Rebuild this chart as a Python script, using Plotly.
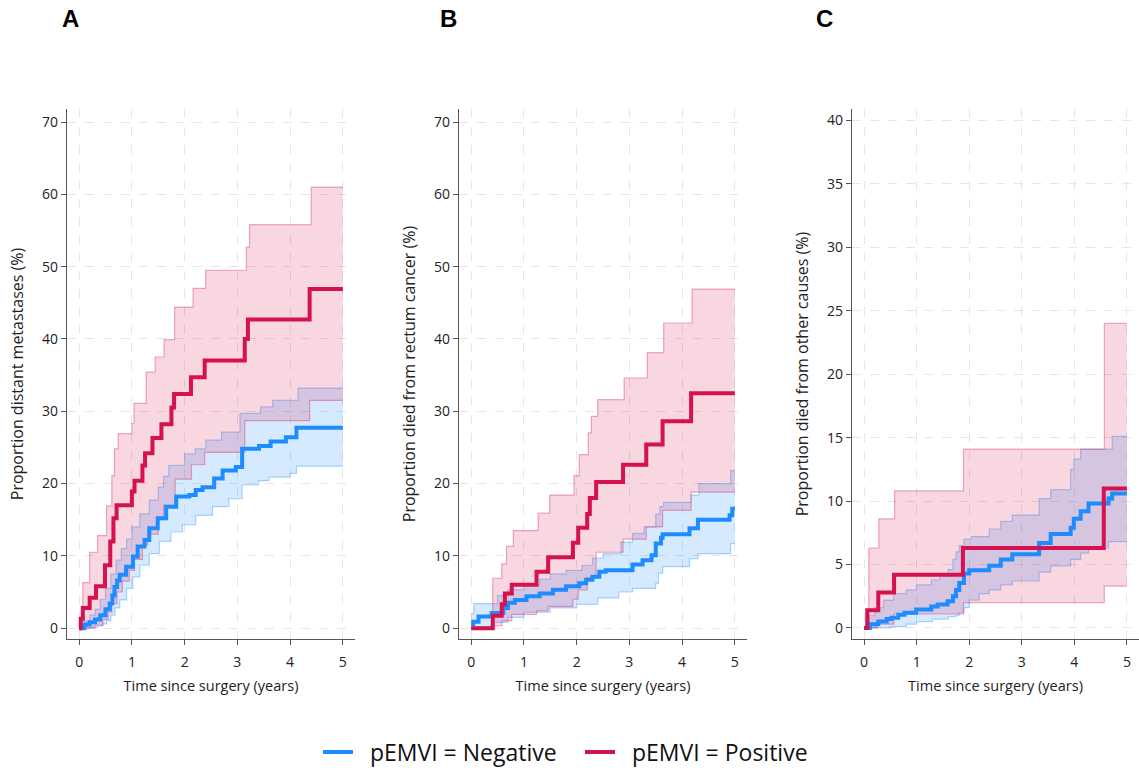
import plotly.graph_objects as go

# ---------------- Panel A: distant metastases ----------------
A_neg_t = [0, 0.1, 0.2, 0.3, 0.4, 0.5, 0.58, 0.63, 0.67, 0.72, 0.77, 0.89, 1.02, 1.11, 1.24, 1.33, 1.49, 1.65, 1.84,
           2.09, 2.21, 2.34, 2.56, 2.72, 2.97, 3.09, 3.41, 3.63, 3.92, 4.12, 5.0]
A_neg_y = [0, 0.5, 0.8, 1.2, 1.8, 2.6, 3.4, 4.5, 5.7, 6.6, 7.4, 8.5, 9.9, 11.3, 12.2, 13.8, 15.2, 16.8, 18.2,
           18.4, 19.1, 19.5, 20.7, 21.8, 22.3, 24.8, 25.2, 25.8, 26.4, 27.7, 27.7]
A_neg_lo_t = [0, 0.2, 0.35, 0.45, 0.52, 0.6, 0.68, 0.77, 0.9, 1.02, 1.15, 1.33, 1.52, 1.74, 1.96, 2.21, 2.53, 2.84,
              3.09, 3.4, 3.6, 4.0, 4.12, 5.0]
A_neg_lo_y = [0, 0.1, 0.3, 0.6, 1.0, 1.8, 2.8, 3.9, 5.5, 7.1, 8.7, 10.3, 12.0, 13.3, 14.3, 15.6, 16.8, 17.9,
              19.8, 20.4, 20.9, 21.4, 22.4, 22.4]
A_neg_hi_t = [0, 0.1, 0.2, 0.3, 0.4, 0.5, 0.6, 0.7, 0.8, 0.9, 1.0, 1.15, 1.33, 1.5, 1.6, 1.7, 2.0, 2.2, 2.4, 2.7,
              3.05, 3.44, 3.67, 4.15, 5.0]
A_neg_hi_y = [0, 1.0, 1.8, 2.6, 4.0, 5.5, 7.5, 9.4, 11.0, 12.3, 14.0, 15.8, 17.7, 19.5, 21.0, 22.5, 24.1, 24.8,
              26.0, 27.1, 29.7, 30.6, 31.5, 33.2, 33.2]

A_pos_t = [0, 0.03, 0.07, 0.2, 0.32, 0.49, 0.59, 0.65, 0.71, 1.0, 1.05, 1.2, 1.25, 1.39, 1.56, 1.75, 1.8, 2.12,
           2.38, 3.14, 3.2, 4.37, 5.0]
A_pos_y = [0, 1.3, 2.8, 4.2, 5.8, 8.7, 12.0, 15.2, 17.0, 18.9, 20.4, 22.5, 24.2, 26.3, 28.2, 30.5, 32.4, 34.7,
           37.0, 40.0, 42.7, 46.9, 46.9]
A_pos_lo_t = [0, 0.3, 0.45, 0.55, 0.62, 0.72, 0.82, 0.95, 1.05, 1.2, 1.3, 1.5, 1.6, 1.82, 2.13, 2.38, 3.14, 4.37, 5.0]
A_pos_lo_y = [0, 0.4, 1.2, 2.2, 3.4, 5.0, 6.5, 8.0, 9.5, 11.5, 13.0, 15.0, 17.0, 20.6, 22.6, 24.3, 28.7, 31.5, 31.5]
A_pos_hi_t = [0, 0.07, 0.2, 0.35, 0.52, 0.62, 0.67, 0.74, 1.0, 1.04, 1.27, 1.44, 1.61, 1.81, 2.16, 2.4, 3.17, 3.23,
              4.4, 5.0]
A_pos_hi_y = [0, 6.3, 10.5, 12.8, 16.9, 21.1, 24.8, 26.9, 28.3, 31.1, 35.4, 37.5, 39.9, 44.4, 47.0, 49.5, 52.7,
              55.8, 61.0, 61.0]

# ---------------- Panel B: died from rectum cancer ----------------
B_neg_t = [0, 0.04, 0.14, 0.39, 0.61, 0.7, 0.83, 1.05, 1.3, 1.55, 1.8, 2.05, 2.18, 2.3, 2.43, 2.55, 3.06, 3.25,
           3.42, 3.5, 3.6, 3.63, 4.14, 4.3, 4.9, 4.95, 5.0]
B_neg_y = [0.5, 0.9, 1.6, 2.1, 2.8, 3.5, 3.9, 4.4, 4.8, 5.3, 5.8, 6.2, 6.7, 7.1, 7.8, 8.0, 8.8, 9.4,
           10.1, 11.7, 12.5, 13.0, 13.8, 15.0, 15.6, 16.5, 16.5]
B_neg_lo_t = [0, 0.1, 0.4, 0.7, 1.0, 1.5, 2.0, 2.4, 2.8, 3.06, 3.5, 3.55, 3.63, 4.14, 4.3, 4.92, 5.0]
B_neg_lo_y = [0, 0.2, 0.8, 1.5, 2.2, 2.8, 3.3, 4.2, 5.0, 5.5, 6.2, 7.6, 8.5, 9.6, 10.3, 11.7, 11.7]
B_neg_hi_t = [0, 0.05, 0.5, 0.7, 1.0, 1.3, 1.5, 1.8, 2.1, 2.3, 2.5, 2.84, 3.06, 3.28, 3.5, 3.58, 3.65, 4.17, 4.32,
              4.92, 5.0]
B_neg_hi_y = [2.0, 3.4, 4.5, 5.3, 6.0, 6.8, 7.5, 8.0, 8.7, 9.7, 10.3, 11.9, 13.1, 14.0, 15.8, 16.8, 17.4, 18.4,
              20.0, 21.8, 21.8]

B_pos_t = [0, 0.41, 0.58, 0.64, 0.77, 1.24, 1.46, 1.93, 2.03, 2.2, 2.25, 2.37, 2.88, 3.32, 3.63, 4.17, 5.0]
B_pos_y = [0, 1.7, 3.3, 4.8, 6.0, 7.8, 9.8, 11.8, 13.9, 15.8, 18.0, 20.2, 22.6, 25.4, 28.6, 32.5, 32.5]
B_pos_lo_t = [0, 0.41, 0.58, 0.77, 1.24, 1.46, 1.93, 2.03, 2.2, 2.37, 2.88, 3.32, 3.63, 4.17, 5.0]
B_pos_lo_y = [0, 0.3, 1.0, 1.9, 2.4, 3.0, 4.0, 5.3, 7.0, 10.5, 12.3, 14.0, 16.3, 18.8, 18.8]
B_pos_hi_t = [0, 0.41, 0.58, 0.67, 0.8, 1.27, 1.49, 1.95, 2.05, 2.22, 2.28, 2.4, 2.9, 3.34, 3.65, 4.19, 5.0]
B_pos_hi_y = [0, 6.9, 8.9, 11.3, 13.5, 15.9, 18.4, 21.1, 24.0, 27.0, 29.3, 31.6, 34.6, 38.1, 42.2, 46.9, 46.9]

# ---------------- Panel C: died from other causes ----------------
C_neg_t = [0, 0.11, 0.27, 0.43, 0.52, 0.65, 0.77, 0.99, 1.28, 1.4, 1.59, 1.69, 1.75, 1.81, 1.9, 2.0, 2.38, 2.6,
           2.82, 3.33, 3.55, 3.93, 3.99, 4.12, 4.27, 4.65, 4.72, 5.0]
C_neg_y = [0, 0.3, 0.5, 0.7, 0.8, 1.05, 1.2, 1.45, 1.7, 1.85, 2.1, 2.5, 3.0, 3.55, 4.3, 4.55, 4.9, 5.4,
           5.8, 6.7, 7.4, 7.9, 8.6, 9.2, 9.8, 10.2, 10.6, 10.6]
C_neg_lo_t = [0, 0.5, 0.8, 1.0, 1.3, 1.6, 1.75, 1.81, 1.9, 2.0, 2.19, 2.38, 2.6, 2.82, 3.33, 3.55, 3.93, 4.12,
              4.27, 4.65, 5.0]
C_neg_lo_y = [0, 0.1, 0.3, 0.5, 0.7, 0.9, 1.0, 1.2, 1.6, 2.2, 2.7, 3.0, 3.4, 3.7, 4.4, 4.9, 5.4, 5.9,
              6.3, 6.8, 6.8]
C_neg_hi_t = [0, 0.1, 0.2, 0.37, 0.56, 0.8, 1.0, 1.28, 1.44, 1.6, 1.69, 1.75, 1.81, 1.9, 2.04, 2.38, 2.6, 2.82,
              3.33, 3.55, 3.93, 3.99, 4.12, 4.72, 5.0]
C_neg_hi_y = [0, 1.0, 1.6, 2.2, 2.7, 3.0, 3.4, 3.8, 4.2, 4.6, 5.4, 6.0, 6.5, 7.0, 7.2, 7.8, 8.4, 8.9,
              10.2, 10.9, 12.5, 13.3, 14.1, 15.1, 15.1]

C_pos_t = [0, 0.06, 0.27, 0.57, 1.88, 4.56, 5.0]
C_pos_y = [0, 1.4, 2.8, 4.2, 6.3, 11.0, 11.0]
C_pos_lo_t = [0, 0.25, 0.57, 1.89, 4.57, 5.0]
C_pos_lo_y = [0, 0.3, 1.1, 2.0, 3.3, 3.3]
C_pos_hi_t = [0, 0.09, 0.28, 0.58, 1.89, 4.57, 5.0]
C_pos_hi_y = [0, 6.3, 8.6, 10.8, 14.1, 24.0, 24.0]

y_titles = ["Proportion distant metastases (%)",
            "Proportion died from rectum cancer (%)",
            "Proportion died from other causes (%)"]
x_title = "Time since surgery (years)"
panel_letters = ["A", "B", "C"]
legend_names = ["pEMVI = Negative", "pEMVI = Positive"]
x_ticks = [0, 1, 2, 3, 4, 5]
y_ticks_AB = [0, 10, 20, 30, 40, 50, 60, 70]
y_ticks_C = [0, 5, 10, 15, 20, 25, 30, 35, 40]

BLUE = "rgb(30,140,255)"
RED = "rgb(214,17,80)"
BLUE_FILL = "rgba(30,140,255,0.18)"
RED_FILL = "rgba(214,17,80,0.17)"
BLUE_EDGE = "rgba(30,140,255,0.35)"
RED_EDGE = "rgba(214,17,80,0.35)"
FONT = "Open Sans"

W, H = 1139, 770
panels = [
    dict(neg=(A_neg_t, A_neg_y), neg_lo=(A_neg_lo_t, A_neg_lo_y), neg_hi=(A_neg_hi_t, A_neg_hi_y),
         pos=(A_pos_t, A_pos_y), pos_lo=(A_pos_lo_t, A_pos_lo_y), pos_hi=(A_pos_hi_t, A_pos_hi_y),
         x0=67, x1=355, yr=[-1.5, 71.8], yt=y_ticks_AB),
    dict(neg=(B_neg_t, B_neg_y), neg_lo=(B_neg_lo_t, B_neg_lo_y), neg_hi=(B_neg_hi_t, B_neg_hi_y),
         pos=(B_pos_t, B_pos_y), pos_lo=(B_pos_lo_t, B_pos_lo_y), pos_hi=(B_pos_hi_t, B_pos_hi_y),
         x0=459, x1=747, yr=[-1.5, 71.8], yt=y_ticks_AB),
    dict(neg=(C_neg_t, C_neg_y), neg_lo=(C_neg_lo_t, C_neg_lo_y), neg_hi=(C_neg_hi_t, C_neg_hi_y),
         pos=(C_pos_t, C_pos_y), pos_lo=(C_pos_lo_t, C_pos_lo_y), pos_hi=(C_pos_hi_t, C_pos_hi_y),
         x0=852, x1=1139, yr=[-0.87, 40.9], yt=y_ticks_C),
]
letter_x = [70, 448, 825]

fig = go.Figure()
layout = dict(
    width=W, height=H, margin=dict(l=0, r=0, t=0, b=0, autoexpand=False),
    paper_bgcolor="white", plot_bgcolor="white",
    font=dict(family=FONT, size=14, color="#222"),
    showlegend=True,
    legend=dict(orientation="h", x=(323 - 5) / W, xanchor="left", y=1 - 752 / H, yanchor="middle",
                font=dict(family=FONT, size=23, color="#111"), itemwidth=30,
                entrywidth=217, entrywidthmode="pixels",
                traceorder="normal", tracegroupgap=0),
)
annotations = []
y_dom = [1 - 639 / H, 1 - 109 / H]

for i, p in enumerate(panels):
    sfx = "" if i == 0 else str(i + 1)
    xa, ya = "x" + sfx, "y" + sfx
    # CI bands
    for lo, hi, fillc, edge in [(p["neg_lo"], p["neg_hi"], BLUE_FILL, BLUE_EDGE),
                                (p["pos_lo"], p["pos_hi"], RED_FILL, RED_EDGE)]:
        fig.add_trace(go.Scatter(x=lo[0], y=lo[1], mode="lines", line=dict(color=edge, width=1.2, shape="hv"),
                                 showlegend=False, hoverinfo="skip", xaxis=xa, yaxis=ya))
        fig.add_trace(go.Scatter(x=hi[0], y=hi[1], mode="lines", line=dict(color=edge, width=1.2, shape="hv"),
                                 fill="tonexty", fillcolor=fillc, showlegend=False, hoverinfo="skip",
                                 xaxis=xa, yaxis=ya))
    fig.add_trace(go.Scatter(x=p["neg"][0], y=p["neg"][1], mode="lines", name="\u00a0\u00a0" + legend_names[0],
                             line=dict(color=BLUE, width=4, shape="hv"), showlegend=(i == 0),
                             legendgroup="neg", xaxis=xa, yaxis=ya))
    fig.add_trace(go.Scatter(x=p["pos"][0], y=p["pos"][1], mode="lines", name="\u00a0\u00a0" + legend_names[1],
                             line=dict(color=RED, width=4, shape="hv"), showlegend=(i == 0),
                             legendgroup="pos", xaxis=xa, yaxis=ya))

    axis_common = dict(showline=True, linecolor="#555", linewidth=1.2, ticks="outside", ticklen=5,
                       tickcolor="#555", showgrid=True, gridcolor="#e6e6e6", griddash="dash", gridwidth=1,
                       zeroline=False, tickfont=dict(family=FONT, size=14, color="#222"))
    layout["xaxis" + sfx] = dict(axis_common, domain=[p["x0"] / W, min(p["x1"] / W, 1.0)],
                                 range=[-0.23, 5.23], tickvals=x_ticks, anchor=ya, ticklabelstandoff=5,
                                 title=dict(text=x_title, font=dict(family=FONT, size=14.5, color="#222"),
                                            standoff=10), automargin=False)
    layout["yaxis" + sfx] = dict(axis_common, domain=y_dom, range=p["yr"], tickvals=p["yt"], anchor=xa,
                                 title=dict(text=y_titles[i], font=dict(family=FONT, size=16, color="#222"),
                                            standoff=14), automargin=False)
    annotations.append(dict(text="<b>%s</b>" % panel_letters[i], x=letter_x[i] / W, y=1 - 18 / H,
                            xref="paper", yref="paper", showarrow=False, xanchor="center", yanchor="middle",
                            font=dict(family="Liberation Sans", size=24, color="#000")))

layout["annotations"] = annotations
fig.update_layout(**layout)
fig.write_html("out.html")
